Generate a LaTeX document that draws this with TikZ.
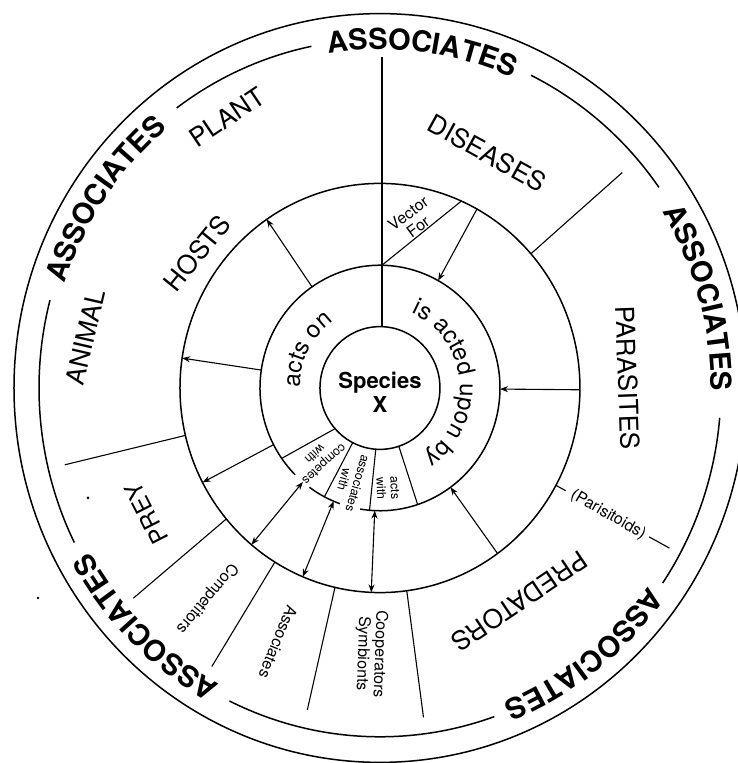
\documentclass[tikz,border=0pt]{standalone}
\usepackage{fontspec}
\setmainfont{TeX Gyre Heros}
\usetikzlibrary{arrows.meta,decorations.text}
\newcommand\assocfont{\fontsize{29}{30}\selectfont\bfseries}
\newcommand\ringfont{\fontsize{24}{26}\selectfont}
\begin{document}
\begin{tikzpicture}[x=1pt,y=1.023pt,
  ring/.style={line width=1.5pt},
  divider/.style={line width=1.1pt},
  arr/.style={line width=1.1pt,-{Stealth[length=8pt,width=6pt]}},
  darr/.style={line width=1.1pt,{Stealth[length=8pt,width=6pt]}-{Stealth[length=8pt,width=6pt]}},
  biglabel/.style={font=\fontsize{26}{28}\selectfont, inner sep=0pt},
  smalllabel/.style={font=\fontsize{16}{17}\selectfont, align=center, inner sep=0pt},
  tinylabel/.style={font=\fontsize{12.5}{14}\selectfont, align=center, inner sep=0pt},
]
\useasboundingbox (-380,-366.6) rectangle (358,379.3);
\fill[white] (-380,-366.6) rectangle (358,379.3);

% ---- circles ----
\draw[ring] (0,0) circle[radius=60];
\draw[ring] (234:120) arc[start angle=234,end angle=250.5,radius=120];
\draw[ring] (260.5:120) arc[start angle=260.5,end angle=585,radius=120];
\draw[ring] (0,0) circle[radius=200];
\draw[ring] (0,0) circle[radius=366];
% broken circle carrying the ASSOCIATES labels
\draw[ring] (101.6:341) arc[start angle=101.6,end angle=126.6,radius=341];
\draw[ring] (165.4:341) arc[start angle=165.4,end angle=206.3,radius=341];
\draw[ring] (243.8:341) arc[start angle=243.8,end angle=289.6,radius=341];
\draw[ring] (326:341) arc[start angle=326,end angle=355.1,radius=341];
\draw[ring] (35.1:341) arc[start angle=35.1,end angle=63.7,radius=341];

% ---- ASSOCIATES labels ----
\path[decorate,decoration={text along path,text align=center,text={|\assocfont|ASSOCIATES}}]
  (102.7:331) arc[start angle=102.7,end angle=62.7,radius=331];
\path[decorate,decoration={text along path,text align=center,text={|\assocfont|ASSOCIATES}}]
  (166:331) arc[start angle=166,end angle=126,radius=331];
\path[decorate,decoration={text along path,text align=center,text={|\assocfont|ASSOCIATES}}]
  (35.5:331) arc[start angle=35.5,end angle=-4.5,radius=331];
\path[decorate,decoration={text along path,text align=center,text={|\assocfont|ASSOCIATES}}]
  (-32:331) arc[start angle=-32,end angle=-72,radius=331];
\path[decorate,decoration={text along path,text align=center,text={|\assocfont|ASSOCIATES}}]
  (245:331) arc[start angle=245,end angle=205,radius=331];

% ---- inner ring texts ----
\path[decorate,decoration={text along path,text align=center,text={|\ringfont|acts on}}]
  (192.5:80) arc[start angle=192.5,end angle=112.5,radius=80];
\path[decorate,decoration={text along path,text align=center,text={|\ringfont|is acted upon by}}]
  (77:80) arc[start angle=77,end angle=-67,radius=80];

\node[font=\fontsize{22}{24}\selectfont\bfseries, align=center, inner sep=0pt] (species) at (0,-4) {Species\\X};

% ---- top vertical line and Vector For line ----
\coordinate (v0) at (2,60);
\coordinate (v1) at (2,120);
\coordinate (v2) at (2,323.5);
\coordinate (vf) at (66:200);
\draw[divider] (v0) -- (v2);
\draw[divider] (v1) -- (vf);

% ---- inner ring dividers ----
\coordinate (ia0) at (221.5:60);  \coordinate (ia1) at (215:120);
\coordinate (ib0) at (243:60);    \coordinate (ib1) at (242.4:120);
\coordinate (ic0) at (266:60);    \coordinate (ic1) at (265:120);
\coordinate (id0) at (288.3:60);  \coordinate (id1) at (288.3:120);
\draw[divider] (ia0) -- (ia1);
\draw[divider] (ib0) -- (ib1);
\draw[divider] (ic0) -- (ic1);
\draw[divider] (id0) -- (id1);

% ---- outer ring dividers ----
\foreach \a/\b [count=\i] in {41/321, 193.4/324, 219.8/321, 238.3/320, 257/323, -82.3/325}{
  \coordinate (od\i a) at (\a:200);
  \coordinate (od\i b) at (\a:\b);
  \draw[divider] (od\i a) -- (od\i b);
}
\coordinate (pa0) at (-28.4:200); \coordinate (pa1) at (-28.4:211);
\coordinate (pa2) at (-28.4:306); \coordinate (pa3) at (-28.4:329);
\draw[divider] (pa0) -- (pa1);
\draw[divider] (pa2) -- (pa3);

% ---- arrows ----
\foreach \a [count=\i] in {61,-0.5,-54}{
  \coordinate (in\i a) at (\a:200);
  \coordinate (in\i b) at (\a:120);
  \draw[arr] (in\i a) -- (in\i b);
}
\foreach \a [count=\i] in {207.5,171.6,124.5}{
  \coordinate (out\i a) at (\a:120);
  \coordinate (out\i b) at (\a:200);
  \draw[arr] (out\i a) -- (out\i b);
}
\foreach \a [count=\i] in {267.5,247.3,230}{
  \coordinate (bi\i a) at (\a:120);
  \coordinate (bi\i b) at (\a:200);
  \draw[darr] (bi\i a) -- (bi\i b);
}

% ---- sector labels ----
\node[biglabel, rotate=34]  (plant)     at (120:306)   {PLANT};
\node[biglabel, rotate=-29] (diseases)  at (65:253.4)  {DISEASES};
\node[biglabel, rotate=51]  (hosts)     at (144.2:225.6) {HOSTS};
\node[biglabel, rotate=77]  (animal)    at (170.4:298.7) {ANIMAL};
\node[biglabel, rotate=117, font=\fontsize{24}{26}\selectfont] (prey) at (207.7:263.8) {PREY};
\node[biglabel, rotate=-88] (parasites) at (2.3:248)   {PARASITES};
\node[biglabel, rotate=214] (predators) at (-56.1:251) {PREDATORS};

\node[smalllabel, rotate=230]   (competitors) at (229.9:268.6) {Competitors};
\node[smalllabel, rotate=247.7] (associates)  at (247.7:268.4) {Associates};
\node[smalllabel, rotate=268]   (cooperators) at (268:260)     {Cooperators\\Symbionts};
\node[smalllabel, rotate=-30]   (parisitoids) at (-28.5:259.7) {(Parisitoids)};
\node[smalllabel, rotate=36]    (vector)      at (78.6:167.5)  {Vector\\For};

\node[tinylabel, rotate=222] (competes)   at (229:92)    {competes\\with};
\node[tinylabel, rotate=254] (associatesw) at (252.5:96) {associates\\with};
\node[tinylabel, rotate=272] (actswith)   at (274.7:98)  {acts\\with};

% scan specks
\fill (-292,-107.5) circle[radius=1.5];
\fill (-342,-205.3) circle[radius=1.3];
\end{tikzpicture}
\end{document}
